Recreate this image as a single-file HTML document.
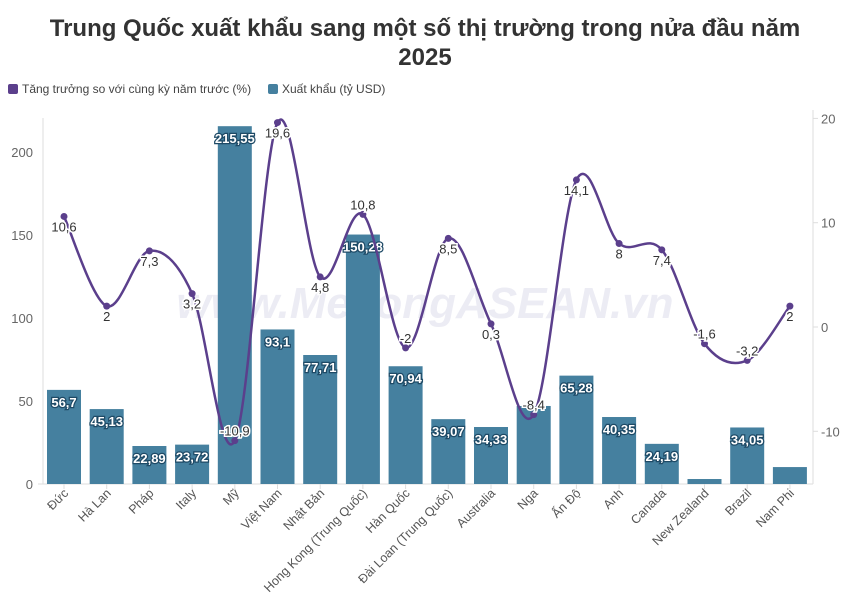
<!DOCTYPE html>
<html><head><meta charset="utf-8">
<style>
body{margin:0;background:#fff;font-family:"Liberation Sans",sans-serif;}
svg text{font-family:"Liberation Sans",sans-serif;}
</style></head>
<body>
<svg id="chart" width="850" height="608" viewBox="0 0 850 608" xmlns="http://www.w3.org/2000/svg">
<text x="425" y="36" text-anchor="middle" font-size="24" font-weight="bold" fill="#333">Trung Quốc xuất khẩu sang một số thị trường trong nửa đầu năm</text>
<text x="425" y="65" text-anchor="middle" font-size="24" font-weight="bold" fill="#333">2025</text>
<g>
<g><rect x="8" y="84" width="10" height="10" rx="2" fill="#5b3f8c"/><text x="22" y="93" font-size="12" fill="#444">Tăng trưởng so với cùng kỳ năm trước (%)</text></g>
<g><rect x="268" y="84" width="10" height="10" rx="2" fill="#45809f"/><text x="282" y="93" font-size="12" fill="#444">Xuất khẩu (tỷ USD)</text></g>
</g>
<text x="425" y="318" text-anchor="middle" font-size="44" font-weight="bold" font-style="italic" fill="#ececf4">www.MekongASEAN.vn</text>
<g id="g"></g>
</svg>
<script>
const categories=["Đức","Hà Lan","Pháp","Italy","Mỹ","Việt Nam","Nhật Bản","Hong Kong (Trung Quốc)","Hàn Quốc","Đài Loan (Trung Quốc)","Australia","Nga","Ấn Độ","Anh","Canada","New Zealand","Brazil","Nam Phi"];
const exportValues=[56.7,45.13,22.89,23.72,215.55,93.1,77.71,150.28,70.94,39.07,34.33,47,65.28,40.35,24.19,3,34.05,10.2];
const exportLabels=["56,7","45,13","22,89","23,72","215,55","93,1","77,71","150,28","70,94","39,07","34,33","","65,28","40,35","24,19","","34,05",""];
const growthValues=[10.6,2,7.3,3.2,-10.9,19.6,4.8,10.8,-2,8.5,0.3,-8.4,14.1,8,7.4,-1.6,-3.2,2];
const growthLabels=["10,6","2","7,3","3,2","-10,9","19,6","4,8","10,8","-2","8,5","0,3","-8,4","14,1","8","7,4","-1,6","-3,2","2"];
const leftTicks=[0,50,100,150,200];
const rightTicks=[-10,0,10,20];

const NS="http://www.w3.org/2000/svg";
const g=document.getElementById('g');
function mk(t,a,p){const e=document.createElementNS(NS,t);for(const k in a)e.setAttribute(k,a[k]);(p||g).appendChild(e);return e;}
const x0=64,step=42.7,bw=34;
const xPos=i=>x0+i*step;
const yL=v=>484-v*1.66;
const yR=v=>327-v*10.43;

const axL=mk('line',{x1:43,y1:118,x2:43,y2:484,stroke:'#ddd'});


const axR=mk('line',{x1:813,y1:110,x2:813,y2:484,stroke:'#ddd'});


const axB=mk('line',{x1:38,y1:484,x2:813,y2:484,stroke:'#ddd'});


leftTicks.forEach(v=>{
 const t=mk('text',{x:33,y:yL(v)+5,'text-anchor':'end','font-size':13,fill:'#666'});t.textContent=v;
 
 
});
rightTicks.forEach(v=>{
 mk('line',{x1:813,x2:818,y1:yR(v),y2:yR(v),stroke:'#ddd'});
 const t=mk('text',{x:821,y:yR(v)+5,'font-size':13,fill:'#666'});t.textContent=v;
 
 
});
categories.forEach((c,i)=>{
 const x=xPos(i),y=yL(exportValues[i]);
 const b=mk('rect',{x:x-bw/2,y:y,width:bw,height:484-y,fill:'#45809f'});
 
 
 mk('line',{x1:x,x2:x,y1:484,y2:489,stroke:'#ddd'});
 const l=mk('text',{transform:`translate(${x+5},${494}) rotate(-45)`,'text-anchor':'end','font-size':12.5,fill:'#555'});l.textContent=c;
 
 
 if(exportLabels[i]){
  const t=mk('text',{x:x,y:y+17,'text-anchor':'middle','font-size':13,'font-weight':'bold',fill:'#fff',stroke:'#1e4a66','stroke-width':2.5,'paint-order':'stroke'});t.textContent=exportLabels[i];
  
  
 }
});
const pts=growthValues.map((v,i)=>[xPos(i),yR(v)]);
let d=`M${pts[0][0]},${pts[0][1]}`;
for(let i=0;i<pts.length-1;i++){
 const p0=pts[Math.max(i-1,0)],p1=pts[i],p2=pts[i+1],p3=pts[Math.min(i+2,pts.length-1)];
 const k=1/3;
 d+=` C${p1[0]+(p2[0]-p0[0])*k/2},${p1[1]+(p2[1]-p0[1])*k/2} ${p2[0]-(p3[0]-p1[0])*k/2},${p2[1]-(p3[1]-p1[1])*k/2} ${p2[0]},${p2[1]}`;
}
const ln=mk('path',{d:d,fill:'none',stroke:'#5b3f8c','stroke-width':2.5});


const below=[1,1,1,1,0,1,1,0,0,1,1,0,1,1,1,0,0,1];
pts.forEach((p,i)=>{
 const c=mk('circle',{cx:p[0],cy:p[1],r:3.5,fill:'#5b3f8c'});
 
 
 const ty=below[i]?p[1]+15:p[1]-5;
 const t=mk('text',{x:p[0],y:ty,'text-anchor':'middle','font-size':13,fill:'#333',stroke:'#fff','stroke-width':3,'paint-order':'stroke'});t.textContent=growthLabels[i];
 
 
});
</script>
</body></html>
